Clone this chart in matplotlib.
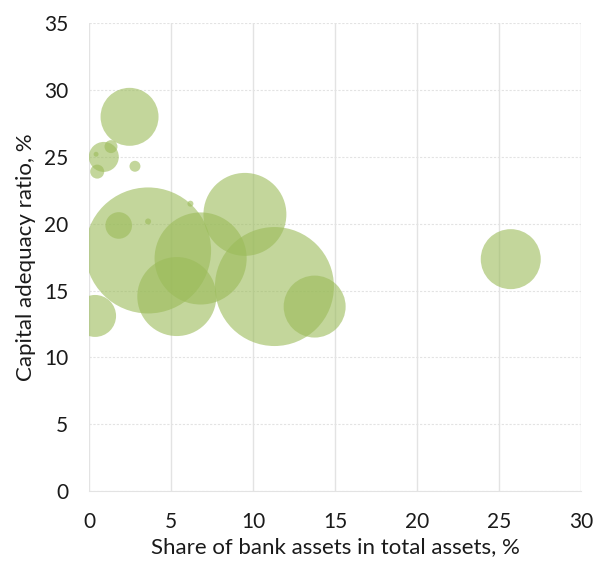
import matplotlib
matplotlib.use("Agg")
import matplotlib.pyplot as plt
import numpy as np

# Bubble data: share of assets (%), capital adequacy ratio (%), bubble weight
share = [3.6, 11.3, 9.5, 6.8, 5.35, 13.75, 0.37, 25.7, 2.47,
         0.9, 1.34, 0.43, 0.5, 2.8, 1.81, 3.6, 6.18]
car = [18.0, 15.3, 20.7, 17.4, 14.55, 13.8, 13.1, 17.35, 28.0,
       25.0, 25.77, 25.2, 23.9, 24.3, 19.87, 20.17, 21.5]
weight = [39.7, 35.4, 17.2, 21.2, 15.6, 9.6, 4.4, 9.0, 8.4,
          2.25, 0.42, 0.06, 0.49, 0.3, 1.77, 0.09, 0.09]

plt.rcParams['font.family'] = ['Lato', 'DejaVu Sans']

fig = plt.figure(figsize=(5.95, 5.61), dpi=100)
ax = fig.add_axes([0.1496, 0.1248, 0.8274, 0.8337])

# weight*100 = radius^2 in pixels -> marker area in points^2
sizes = np.array(weight) * 100 * 4 * 0.72 ** 2
ax.scatter(share, car, s=sizes, color='#9BBB59', alpha=0.6,
           edgecolors='none', zorder=3)

ax.set_xlim(0, 30)
ax.set_ylim(0, 35)
ax.set_xticks(range(0, 31, 5))
ax.set_yticks(range(0, 36, 5))

ax.xaxis.grid(True, color='#E3E3E3', lw=1, ls='-')
ax.yaxis.grid(True, color='#E3E3E3', lw=0.8, ls=(0, (2, 1.5)))
ax.set_axisbelow(True)
for side in ['top', 'right', 'left']:
    ax.spines[side].set_visible(False)
ax.spines['bottom'].set_color('#E3E3E3')
ax.tick_params(length=0, labelsize=15, colors='#1a1a1a')
ax.tick_params(axis='x', pad=15)
ax.tick_params(axis='y', pad=15)

ax.set_xlabel('Share of bank assets in total assets, %', fontsize=16,
              color='#1a1a1a', labelpad=4)
ax.set_ylabel('Capital adequacy ratio, %', fontsize=16,
              color='#1a1a1a', labelpad=6)

fig.savefig('out.png', dpi=100)
